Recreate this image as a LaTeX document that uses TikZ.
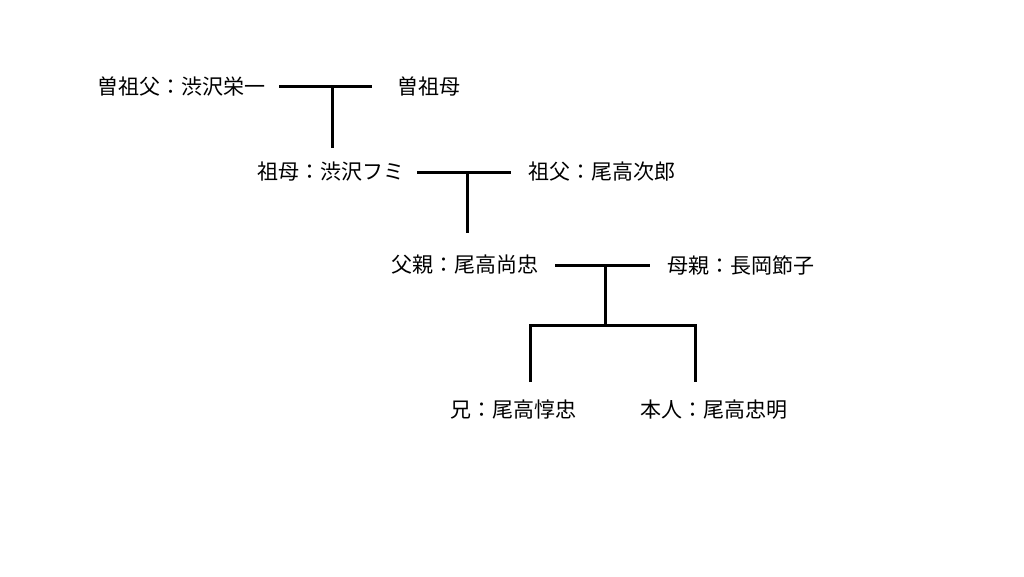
\documentclass[tikz,border=0pt]{standalone}
\usepackage{fontspec}
\newfontfamily\jpfont{Noto Sans CJK JP}

\tikzset{
	person/.style={anchor=west, inner sep=0pt, font=\jpfont\fontsize{21}{24}\selectfont},
	tie/.style={line width=3pt}
}

\begin{document}
\begin{tikzpicture}[x=1pt, y=-1pt]
	\useasboundingbox (0,0) rectangle (1024,576);
	% 曽祖父母
	\node[person] (hiisofu) at (97,86) {曽祖父：渋沢栄一};
	\node[person] (hiisobo) at (397,86) {曽祖母};
	\coordinate (t1l) at (279,86);
	\coordinate (t1r) at (372,86);
	\coordinate (t1m) at (332,86);
	\coordinate (t1d) at (332,148);
	\draw[tie] (t1l) -- (t1r);
	\draw[tie] (t1m) -- (t1d);
	% 祖父母
	\node[person] (sobo) at (257,172) {祖母：渋沢フミ};
	\node[person] (sofu) at (528,172) {祖父：尾高次郎};
	\coordinate (t2l) at (417,172);
	\coordinate (t2r) at (511,172);
	\coordinate (t2m) at (467,172);
	\coordinate (t2d) at (467,233);
	\draw[tie] (t2l) -- (t2r);
	\draw[tie] (t2m) -- (t2d);
	% 両親
	\node[person] (chichi) at (391,265) {父親：尾高尚忠};
	\node[person] (haha) at (667,265) {母親：長岡節子};
	\coordinate (t3l) at (555,265);
	\coordinate (t3r) at (650,265);
	\coordinate (t3m) at (605,265);
	\coordinate (t3d) at (605,325);
	\draw[tie] (t3l) -- (t3r);
	\draw[tie] (t3m) -- (t3d);
	% 兄弟
	\coordinate (k1) at (530,325);
	\coordinate (k2) at (695,325);
	\coordinate (k1d) at (530,382);
	\coordinate (k2d) at (695,382);
	\draw[tie] (k1d) -- (k1) -- (k2) -- (k2d);
	\node[person] (ani) at (450,410) {兄：尾高惇忠};
	\node[person] (honnin) at (640,410) {本人：尾高忠明};
\end{tikzpicture}
\end{document}
